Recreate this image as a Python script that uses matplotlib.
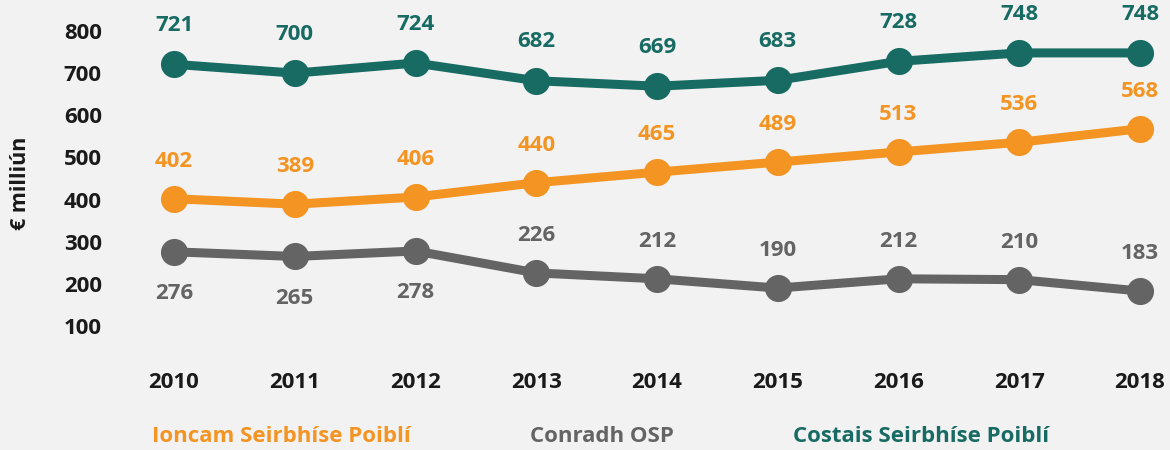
import matplotlib.pyplot as plt

years = [2010, 2011, 2012, 2013, 2014, 2015, 2016, 2017, 2018]
costais = [721, 700, 724, 682, 669, 683, 728, 748, 748]
ioncam = [402, 389, 406, 440, 465, 489, 513, 536, 568]
conradh = [276, 265, 278, 226, 212, 190, 212, 210, 183]
# gray labels: below for first three years, above afterwards
conradh_below = [True, True, True, False, False, False, False, False, False]

teal = "#176b63"
orange = "#f39423"
gray = "#646464"
bg = "#f2f2f2"
fs = 16

plt.rcParams["font.family"] = ["Open Sans", "DejaVu Sans"]
plt.rcParams["font.weight"] = "bold"

fig = plt.figure(figsize=(11.7, 4.5), dpi=100, facecolor=bg)
ax = fig.add_axes([174 / 1170, 124 / 450, 966 / 1170, 295 / 450])
ax.set_facecolor(bg)

for vals, col in [(conradh, gray), (ioncam, orange), (costais, teal)]:
    ax.plot(years, vals, color=col, lw=6.5, marker="o", markersize=18.5,
            clip_on=False, solid_capstyle="round")

for x, v in zip(years, costais):
    ax.annotate(str(v), (x, v), xytext=(0, 28), textcoords="offset points",
                ha="center", va="center", color=teal, fontsize=fs, fontweight="bold")
for x, v in zip(years, ioncam):
    ax.annotate(str(v), (x, v), xytext=(0, 27), textcoords="offset points",
                ha="center", va="center", color=orange, fontsize=fs, fontweight="bold")
for x, v, b in zip(years, conradh, conradh_below):
    ax.annotate(str(v), (x, v), xytext=(0, -30 if b else 27), textcoords="offset points",
                ha="center", va="center", color=gray, fontsize=fs, fontweight="bold")

ax.set_xlim(2010, 2018)
ax.set_ylim(100, 800)
ax.set_xticks(years)
ax.set_yticks(range(100, 900, 100))
ax.tick_params(length=0, labelsize=fs, colors="#1a1a1a")
ax.tick_params(axis="y", pad=52)
ax.tick_params(axis="x", pad=33)
for lab in ax.get_xticklabels() + ax.get_yticklabels():
    lab.set_fontweight("bold")
for s in ax.spines.values():
    s.set_visible(False)

fig.text(20 / 1170, 1 - 183 / 450, "€ milliún", rotation=90, ha="center", va="center",
         fontsize=15.5, fontweight="bold", color="#1a1a1a")

fig.text(152 / 1170, 1 - 437 / 450, "Ioncam Seirbhíse Poiblí", color=orange,
         fontsize=fs, fontweight="bold", va="center")
fig.text(530 / 1170, 1 - 437 / 450, "Conradh OSP", color=gray,
         fontsize=fs, fontweight="bold", va="center")
fig.text(793 / 1170, 1 - 437 / 450, "Costais Seirbhíse Poiblí", color=teal,
         fontsize=fs, fontweight="bold", va="center")

fig.savefig("out.png", dpi=100, facecolor=bg)
